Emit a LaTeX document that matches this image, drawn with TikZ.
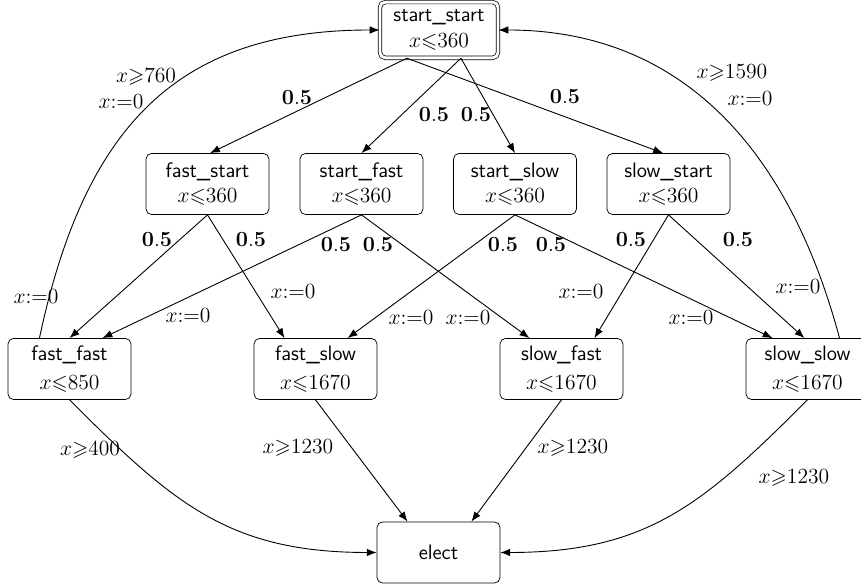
\documentclass[tikz,border=0pt]{standalone}
\usepackage{amssymb}
\usepackage{amsmath}
\usetikzlibrary{arrows.meta}

\begin{document}
\begin{tikzpicture}[x=0.5556pt,y=0.5556pt,font=\fontsize{11.6}{14}\selectfont]

\tikzset{state/.style = {shape=rectangle,rounded corners=3pt,draw,align=center,minimum width=68.3pt,minimum height=33.9pt,font=\fontsize{11.6}{14}\selectfont\sffamily}}
\tikzset{init/.style = {state,double,double distance=1.6pt,minimum width=65.6pt,minimum height=31pt}}
\tikzset{edge/.style = {-{Latex[length=5.5pt,width=4.2pt]},line width=0.5pt}}
\tikzset{lbl/.style = {inner sep=1pt}}

\useasboundingbox (0,0) rectangle (861,588);
% vertices
\node[init]  (ss)   at (439,558)   {start\_start\\$x{\leqslant}360$};
\node[state] (fs)   at (207.5,404) {fast\_start\\$x{\leqslant}360$};
\node[state] (sf)   at (361.5,404) {start\_fast\\$x{\leqslant}360$};
\node[state] (sl)   at (515,404)   {start\_slow\\$x{\leqslant}360$};
\node[state] (sls)  at (668.5,404) {slow\_start\\$x{\leqslant}360$};
\node[state] (ff)   at (69.5,219)  {fast\_fast\\[2pt]$x{\leqslant}850$};
\node[state] (fsl)  at (315.5,219) {fast\_slow\\[2pt]$x{\leqslant}1670$};
\node[state] (sfa)  at (561.5,219) {slow\_fast\\[2pt]$x{\leqslant}1670$};
\node[state] (slsl) at (807.5,219) {slow\_slow\\[2pt]$x{\leqslant}1670$};
\node[state] (el)   at (438.5,35.5) {elect};
%edges
\draw[edge] ([xshift=-17.8pt]ss.south) to ([xshift=1.4pt]fs.north);
\draw[edge] ([xshift=12.2pt]ss.south) to (sf.north);
\draw[edge] ([xshift=12.2pt]ss.south) to (sl.north);
\draw[edge] ([xshift=-17.8pt]ss.south) to ([xshift=-3pt]sls.north);
\draw[edge] (fs.south) to (ff.north);
\draw[edge] (fs.south) to ([xshift=-17.2pt]fsl.north);
\draw[edge] (sf.south) to ([xshift=18.3pt]ff.north);
\draw[edge] (sf.south) to ([xshift=-17.8pt]sfa.north);
\draw[edge] (sl.south) to ([xshift=17.8pt]fsl.north);
\draw[edge] (sl.south) to ([xshift=-19.4pt]slsl.north);
\draw[edge] (sls.south) to ([xshift=18.3pt]sfa.north);
\draw[edge] (sls.south) to ([xshift=-1.7pt]slsl.north);
\draw[edge] ([xshift=-16.7pt]ff.north) to[out=78,in=180,out distance=122pt,in distance=111pt] (ss.west);
\draw[edge] ([xshift=17.8pt]slsl.north) to[out=105,in=0,out distance=111pt,in distance=100pt] (ss.east);
\draw[edge] (ff.south) to[out=-45,in=180,looseness=1.1] (el.west);
\draw[edge] (slsl.south) to[out=-135,in=0,looseness=1.1] (el.east);
\draw[edge] (fsl.south) to ([xshift=-17.2pt]el.north);
\draw[edge] (sfa.south) to ([xshift=18.3pt]el.north);
% labels
\node[lbl] (p1)  at (297,490) {$\mathbf{0.5}$};
\node[lbl] (p2)  at (434,473) {$\mathbf{0.5}$};
\node[lbl] (p3)  at (476,473) {$\mathbf{0.5}$};
\node[lbl] (p4)  at (565,491) {$\mathbf{0.5}$};
\node[lbl] (p5)  at (157,348) {$\mathbf{0.5}$};
\node[lbl] (p6)  at (251,348) {$\mathbf{0.5}$};
\node[lbl] (p7)  at (336,343) {$\mathbf{0.5}$};
\node[lbl] (p8)  at (378,343) {$\mathbf{0.5}$};
\node[lbl] (p9)  at (503,343) {$\mathbf{0.5}$};
\node[lbl] (p10) at (551,343) {$\mathbf{0.5}$};
\node[lbl] (p11) at (631,348) {$\mathbf{0.5}$};
\node[lbl] (p12) at (738,348) {$\mathbf{0.5}$};
\node[lbl] (r1) at (36,291)  {$x{:=}0$};
\node[lbl] (r2) at (293,296) {$x{:=}0$};
\node[lbl] (r3) at (188,272) {$x{:=}0$};
\node[lbl] (r4) at (468,270) {$x{:=}0$};
\node[lbl] (r5) at (411,270) {$x{:=}0$};
\node[lbl] (r6) at (691,270) {$x{:=}0$};
\node[lbl] (r7) at (581,296) {$x{:=}0$};
\node[lbl] (r8) at (798,301) {$x{:=}0$};
\node[lbl] (g1) at (146,511) {$x{\geqslant}760$};
\node[lbl] (r9) at (121,486) {$x{:=}0$};
\node[lbl] (g2) at (732,515) {$x{\geqslant}1590$};
\node[lbl] (r10) at (750,489) {$x{:=}0$};
\node[lbl] (g3) at (90,138) {$x{\geqslant}400$};
\node[lbl] (g4) at (298,140) {$x{\geqslant}1230$};
\node[lbl] (g5) at (573,140) {$x{\geqslant}1230$};
\node[lbl] (g6) at (794,110) {$x{\geqslant}1230$};
\end{tikzpicture}
\end{document}
